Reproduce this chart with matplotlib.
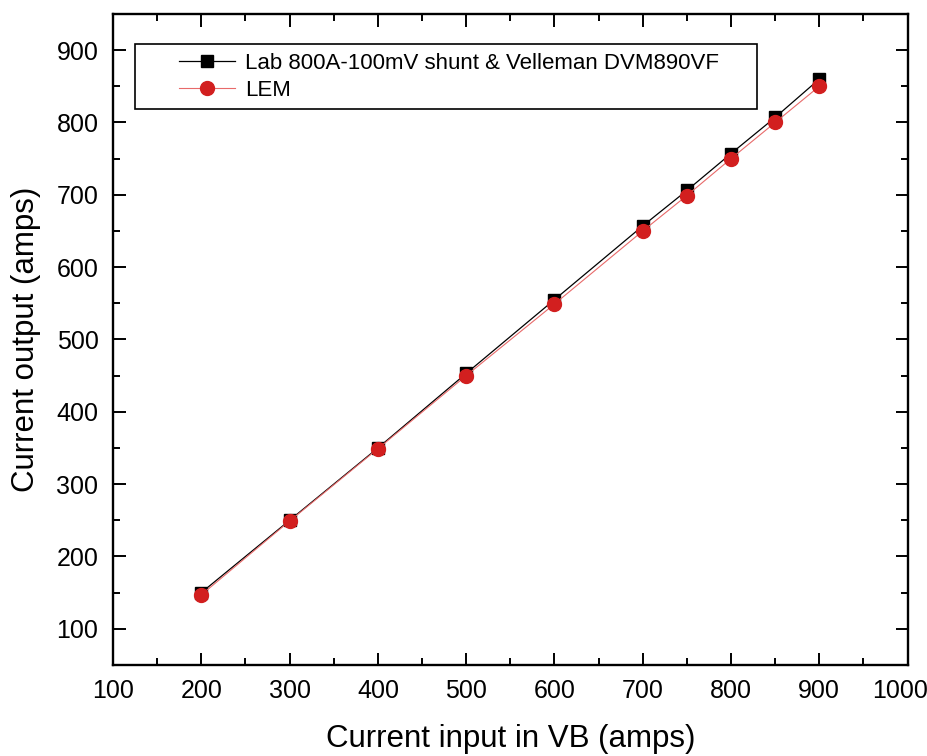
import matplotlib.pyplot as plt
from matplotlib.ticker import MultipleLocator
from matplotlib.legend_handler import HandlerLine2D

plt.rcParams['font.family'] = ['Liberation Sans', 'DejaVu Sans']

current_in = [200, 300, 400, 500, 600, 700, 750, 800, 850, 900]
shunt_out = [150, 250, 350, 453, 555, 657, 706, 757, 807, 860]
lem_out = [147, 249, 349, 450, 549, 650, 699, 750, 800, 850]

x_ticks = [100, 200, 300, 400, 500, 600, 700, 800, 900, 1000]
y_ticks = [100, 200, 300, 400, 500, 600, 700, 800, 900]

shunt_label = "Lab 800A-100mV shunt & Velleman DVM890VF"
lem_label = "LEM"

fig = plt.figure(figsize=(9.28, 7.56), dpi=100)
ax = fig.add_axes([0.1218, 0.1204, 0.8562, 0.8611])

l1, = ax.plot(current_in, shunt_out, color='black', lw=0.9, marker='s', ms=8.5,
              mfc='black', mec='black', label=shunt_label, zorder=3)
l2, = ax.plot(current_in, lem_out, color='#e86a6a', lw=0.8, marker='o', ms=10,
              mfc='#d21f1f', mec='#d21f1f', label=lem_label, zorder=4)

ax.set_xlim(100, 1000)
ax.set_ylim(50, 950)
# last x label is drawn by hand below, nudged left so it stays on the picture
ax.set_xticks(x_ticks, [str(t) for t in x_ticks[:-1]] + [''])
ax.set_yticks(y_ticks)
ax.xaxis.set_minor_locator(MultipleLocator(50))
ax.yaxis.set_minor_locator(MultipleLocator(50))

ax.tick_params(which='both', direction='in', top=True, right=True, width=1.4)
ax.tick_params(which='major', length=9, labelsize=18)
ax.tick_params(axis='x', which='major', pad=10)
ax.tick_params(axis='y', which='major', pad=10.5)
ax.tick_params(which='minor', length=5)
for s in ax.spines.values():
    s.set_linewidth(1.7)

ax.annotate(str(x_ticks[-1]), xy=(x_ticks[-1], 0), xycoords=('data', 'axes fraction'),
            xytext=(-8, -14), textcoords='offset pixels', ha='center', va='top',
            fontsize=18)

ax.set_xlabel("Current input in VB (amps)", fontsize=22.5, labelpad=15)
ax.set_ylabel("Current output (amps)", fontsize=22.5, labelpad=11)

hmap = {l1: HandlerLine2D(xpad=1.6), l2: HandlerLine2D(xpad=1.6)}
leg = ax.legend(loc='upper left', bbox_to_anchor=(0.0277, 0.0, 0.7824, 0.954),
                mode='expand', borderaxespad=0, handler_map=hmap,
                fontsize=16, fancybox=False, edgecolor='black', framealpha=1,
                handlelength=4.1, borderpad=0.4, labelspacing=0.26, handletextpad=0.45)
leg.get_frame().set_linewidth(1.2)

plt.savefig("out.png", dpi=100)
